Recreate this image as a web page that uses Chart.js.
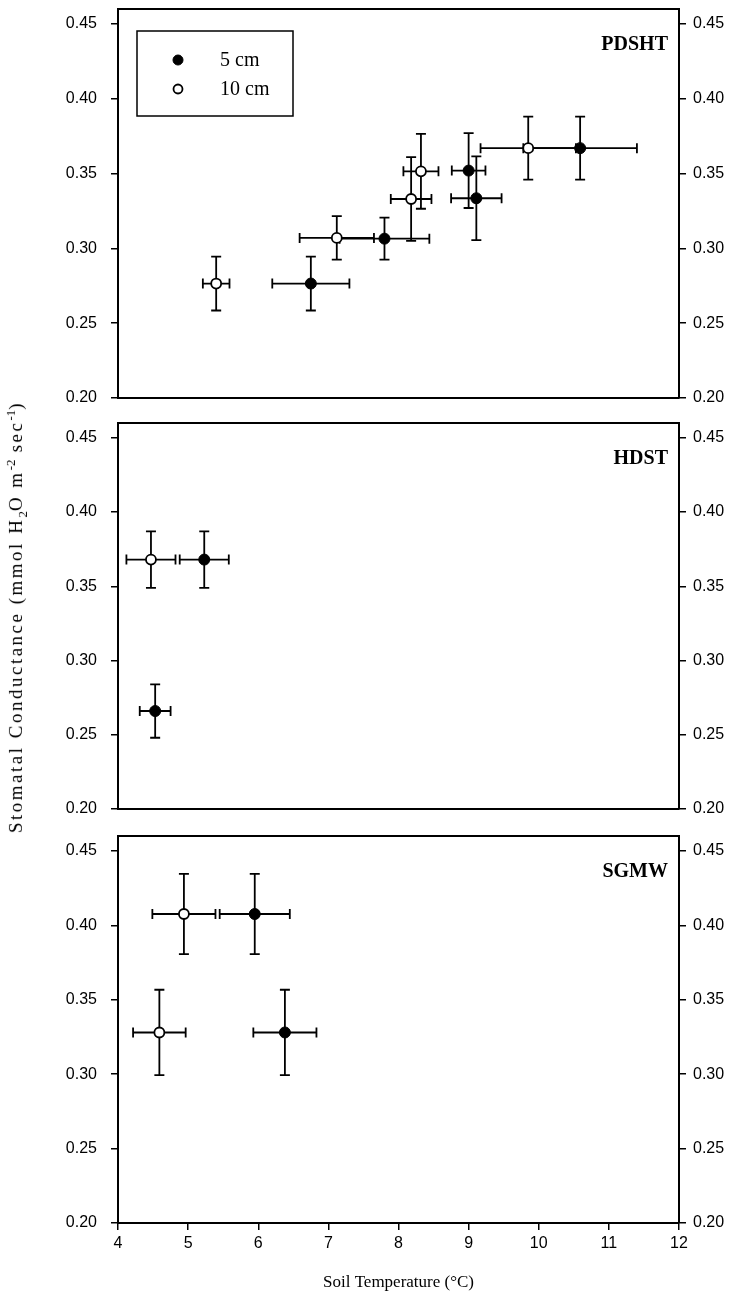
<!DOCTYPE html>
<html>
<head>
<meta charset="utf-8">
<title>Stomatal conductance vs soil temperature</title>
<script src="https://cdn.jsdelivr.net/npm/chart.js@4.4.1/dist/chart.umd.min.js"></script>
<style>
  html, body { margin: 0; padding: 0; background: #fff; }
  #page { position: relative; width: 730px; height: 1305px; overflow: hidden; }
  #page canvas { position: absolute; left: 0; }
  #ytitle {
    position: absolute; left: 17px; top: 617px;
    transform: translate(-50%, -50%) rotate(-90deg);
    white-space: nowrap; color: #000;
    font-family: 'Liberation Serif', 'Times New Roman', serif;
    font-size: 19px; letter-spacing: 2.5px;
  }
  #ytitle sub, #ytitle sup { font-size: 13px; letter-spacing: 0; }
</style>
</head>
<body>
<div id="page">
  <canvas id="panel-pdsht" width="730" height="410" style="top:0px"></canvas>
  <canvas id="panel-hdst" width="730" height="416" style="top:410px"></canvas>
  <canvas id="panel-sgmw" width="730" height="479" style="top:826px"></canvas>
  <div id="ytitle">Stomatal Conductance (mmol H<sub>2</sub>O m<sup>-2</sup> sec<sup>-1</sup>)</div>
</div>
<script>
/* axis ranges and tick labels */
const xMin = 4, xMax = 12;
const yMin = 0.20, yMax = 0.46;
const xTicks = [4, 5, 6, 7, 8, 9, 10, 11, 12];
const yTicks = [0.20, 0.25, 0.30, 0.35, 0.40, 0.45];
const seriesNames = ['5 cm', '10 cm'];

/* PDSHT */
const pdsht5Temp   = [6.75, 7.80, 9.00, 9.11, 10.59];
const pdsht5Cond   = [0.2765, 0.3065, 0.352, 0.3335, 0.367];
const pdsht5TempSE = [0.55, 0.64, 0.24, 0.36, 0.81];
const pdsht5CondSE = [0.018, 0.014, 0.025, 0.028, 0.021];
const pdsht10Temp   = [5.40, 7.12, 8.18, 8.32, 9.85];
const pdsht10Cond   = [0.2765, 0.307, 0.333, 0.3515, 0.367];
const pdsht10TempSE = [0.19, 0.53, 0.29, 0.25, 0.68];
const pdsht10CondSE = [0.018, 0.0145, 0.028, 0.025, 0.021];

/* HDST */
const hdst5Temp   = [5.23, 4.53];
const hdst5Cond   = [0.368, 0.266];
const hdst5TempSE = [0.35, 0.22];
const hdst5CondSE = [0.019, 0.018];
const hdst10Temp   = [4.47];
const hdst10Cond   = [0.368];
const hdst10TempSE = [0.35];
const hdst10CondSE = [0.019];

/* SGMW */
const sgmw5Temp   = [5.95, 6.38];
const sgmw5Cond   = [0.4076, 0.328];
const sgmw5TempSE = [0.50, 0.45];
const sgmw5CondSE = [0.027, 0.0287];
const sgmw10Temp   = [4.94, 4.59];
const sgmw10Cond   = [0.4076, 0.328];
const sgmw10TempSE = [0.45, 0.375];
const sgmw10CondSE = [0.027, 0.0287];

const SANS = "'Liberation Sans', Arial, sans-serif";
const SERIF = "'Liberation Serif', 'Times New Roman', serif";

/* cross-shaped error bars, drawn under the markers */
const errorBars = {
  id: 'errorBars',
  beforeDatasetsDraw(chart) {
    const { ctx, scales: { x, y } } = chart;
    const cap = 5;
    ctx.save();
    ctx.strokeStyle = '#000';
    ctx.lineWidth = 1.8;
    chart.data.datasets.forEach(ds => {
      ds.data.forEach((p, i) => {
        const px = x.getPixelForValue(p.x);
        const py = y.getPixelForValue(p.y);
        const xl = x.getPixelForValue(p.x - ds.xErr[i]);
        const xr = x.getPixelForValue(p.x + ds.xErr[i]);
        const yt = y.getPixelForValue(p.y + ds.yErr[i]);
        const yb = y.getPixelForValue(p.y - ds.yErr[i]);
        ctx.beginPath();
        ctx.moveTo(xl, py); ctx.lineTo(xr, py);
        ctx.moveTo(xl, py - cap); ctx.lineTo(xl, py + cap);
        ctx.moveTo(xr, py - cap); ctx.lineTo(xr, py + cap);
        ctx.moveTo(px, yt); ctx.lineTo(px, yb);
        ctx.moveTo(px - cap, yt); ctx.lineTo(px + cap, yt);
        ctx.moveTo(px - cap, yb); ctx.lineTo(px + cap, yb);
        ctx.stroke();
      });
    });
    ctx.restore();
  }
};

/* site name in the upper right corner, legend box in the first panel */
const panelDecor = {
  id: 'panelDecor',
  afterDatasetsDraw(chart, args, opts) {
    const { ctx, chartArea: ca } = chart;
    ctx.save();
    ctx.fillStyle = '#000';
    ctx.font = 'bold 20px ' + SERIF;
    ctx.textAlign = 'right';
    ctx.textBaseline = 'middle';
    ctx.fillText(opts.text, ca.right - 11, ca.top + 36);

    if (opts.legend) {
      const bx = ca.left + 19, by = ca.top + 22;
      ctx.strokeStyle = '#000';
      ctx.lineWidth = 1.5;
      ctx.strokeRect(bx, by, 156, 85);
      ctx.font = '20px ' + SERIF;
      ctx.textAlign = 'left';
      chart.data.datasets.forEach((ds, i) => {
        const my = by + 29 + i * 29;
        ctx.beginPath();
        ctx.arc(bx + 41, my, ds.pointRadius - 0.5, 0, Math.PI * 2);
        ctx.fillStyle = ds.pointBackgroundColor;
        ctx.fill();
        ctx.lineWidth = ds.pointBorderWidth;
        ctx.strokeStyle = '#000';
        ctx.stroke();
        ctx.fillStyle = '#000';
        ctx.fillText(ds.label, bx + 83, my + 1);
      });
    }
    ctx.restore();
  }
};

function points(xs, ys) {
  return xs.map((v, i) => ({ x: v, y: ys[i] }));
}

/* fixed axis sizes so the plot box lands where it is in the figure */
function fixSize(prop, size) {
  return s => {
    s[prop] = size;
    s.paddingTop = 0; s.paddingBottom = 0;
    s.paddingLeft = 0; s.paddingRight = 0;
  };
}

function yAxis(position, width, pad) {
  return {
    type: 'linear', position: position, min: yMin, max: yMax,
    afterBuildTicks: s => { s.ticks = yTicks.map(v => ({ value: v })); },
    ticks: { callback: v => v.toFixed(2), font: { family: SANS, size: 16 }, color: '#000', padding: pad },
    grid: { drawOnChartArea: false, drawTicks: true, tickLength: 7, color: '#000', lineWidth: 1.5 },
    border: { display: true, color: '#000', width: 2 },
    afterFit: fixSize('width', width)
  };
}

function makePanel(canvasId, name, s5, s10, cfg) {
  const ctx = document.getElementById(canvasId);
  return new Chart(ctx, {
    type: 'scatter',
    data: {
      datasets: [
        {
          label: seriesNames[0],
          data: points(s5[0], s5[1]),
          xErr: s5[2], yErr: s5[3],
          pointRadius: 5.5, pointBackgroundColor: '#000', pointBorderColor: '#000', pointBorderWidth: 1
        },
        {
          label: seriesNames[1],
          data: points(s10[0], s10[1]),
          xErr: s10[2], yErr: s10[3],
          pointRadius: 5, pointBackgroundColor: '#fff', pointBorderColor: '#000', pointBorderWidth: 1.8
        }
      ]
    },
    options: {
      responsive: false,
      animation: false,
      devicePixelRatio: 1,
      layout: { padding: 0, autoPadding: false },
      plugins: {
        legend: { display: false },
        tooltip: { enabled: false },
        panelDecor: { text: name, legend: cfg.legend }
      },
      scales: {
        x: {
          type: 'linear', position: 'bottom', min: xMin, max: xMax,
          afterBuildTicks: s => { s.ticks = xTicks.map(v => ({ value: v })); },
          ticks: { display: cfg.showX, font: { family: SANS, size: 16 }, color: '#000', padding: 4, maxRotation: 0, autoSkip: false },
          grid: { drawOnChartArea: false, drawTicks: cfg.showX, tickLength: 7, color: '#000', lineWidth: 1.5 },
          border: { display: true, color: '#000', width: 2 },
          title: {
            display: cfg.showX, text: 'Soil Temperature (°C)', color: '#000',
            font: { family: SERIF, size: 17 }, padding: { top: 0, bottom: 12 }
          },
          afterFit: fixSize('height', cfg.bottom)
        },
        xt: {
          type: 'linear', position: 'top',
          ticks: { display: false },
          grid: { drawOnChartArea: false, drawTicks: false },
          border: { display: true, color: '#000', width: 2 },
          afterFit: fixSize('height', cfg.top)
        },
        y: yAxis('left', 118, 14),
        y2: yAxis('right', 51, 7)
      }
    },
    plugins: [errorBars, panelDecor]
  });
}

makePanel('panel-pdsht', 'PDSHT',
  [pdsht5Temp, pdsht5Cond, pdsht5TempSE, pdsht5CondSE],
  [pdsht10Temp, pdsht10Cond, pdsht10TempSE, pdsht10CondSE],
  { top: 9, bottom: 12, showX: false, legend: true });

makePanel('panel-hdst', 'HDST',
  [hdst5Temp, hdst5Cond, hdst5TempSE, hdst5CondSE],
  [hdst10Temp, hdst10Cond, hdst10TempSE, hdst10CondSE],
  { top: 13, bottom: 17, showX: false, legend: false });

makePanel('panel-sgmw', 'SGMW',
  [sgmw5Temp, sgmw5Cond, sgmw5TempSE, sgmw5CondSE],
  [sgmw10Temp, sgmw10Cond, sgmw10TempSE, sgmw10CondSE],
  { top: 10, bottom: 82, showX: true, legend: false });
</script>
</body>
</html>
